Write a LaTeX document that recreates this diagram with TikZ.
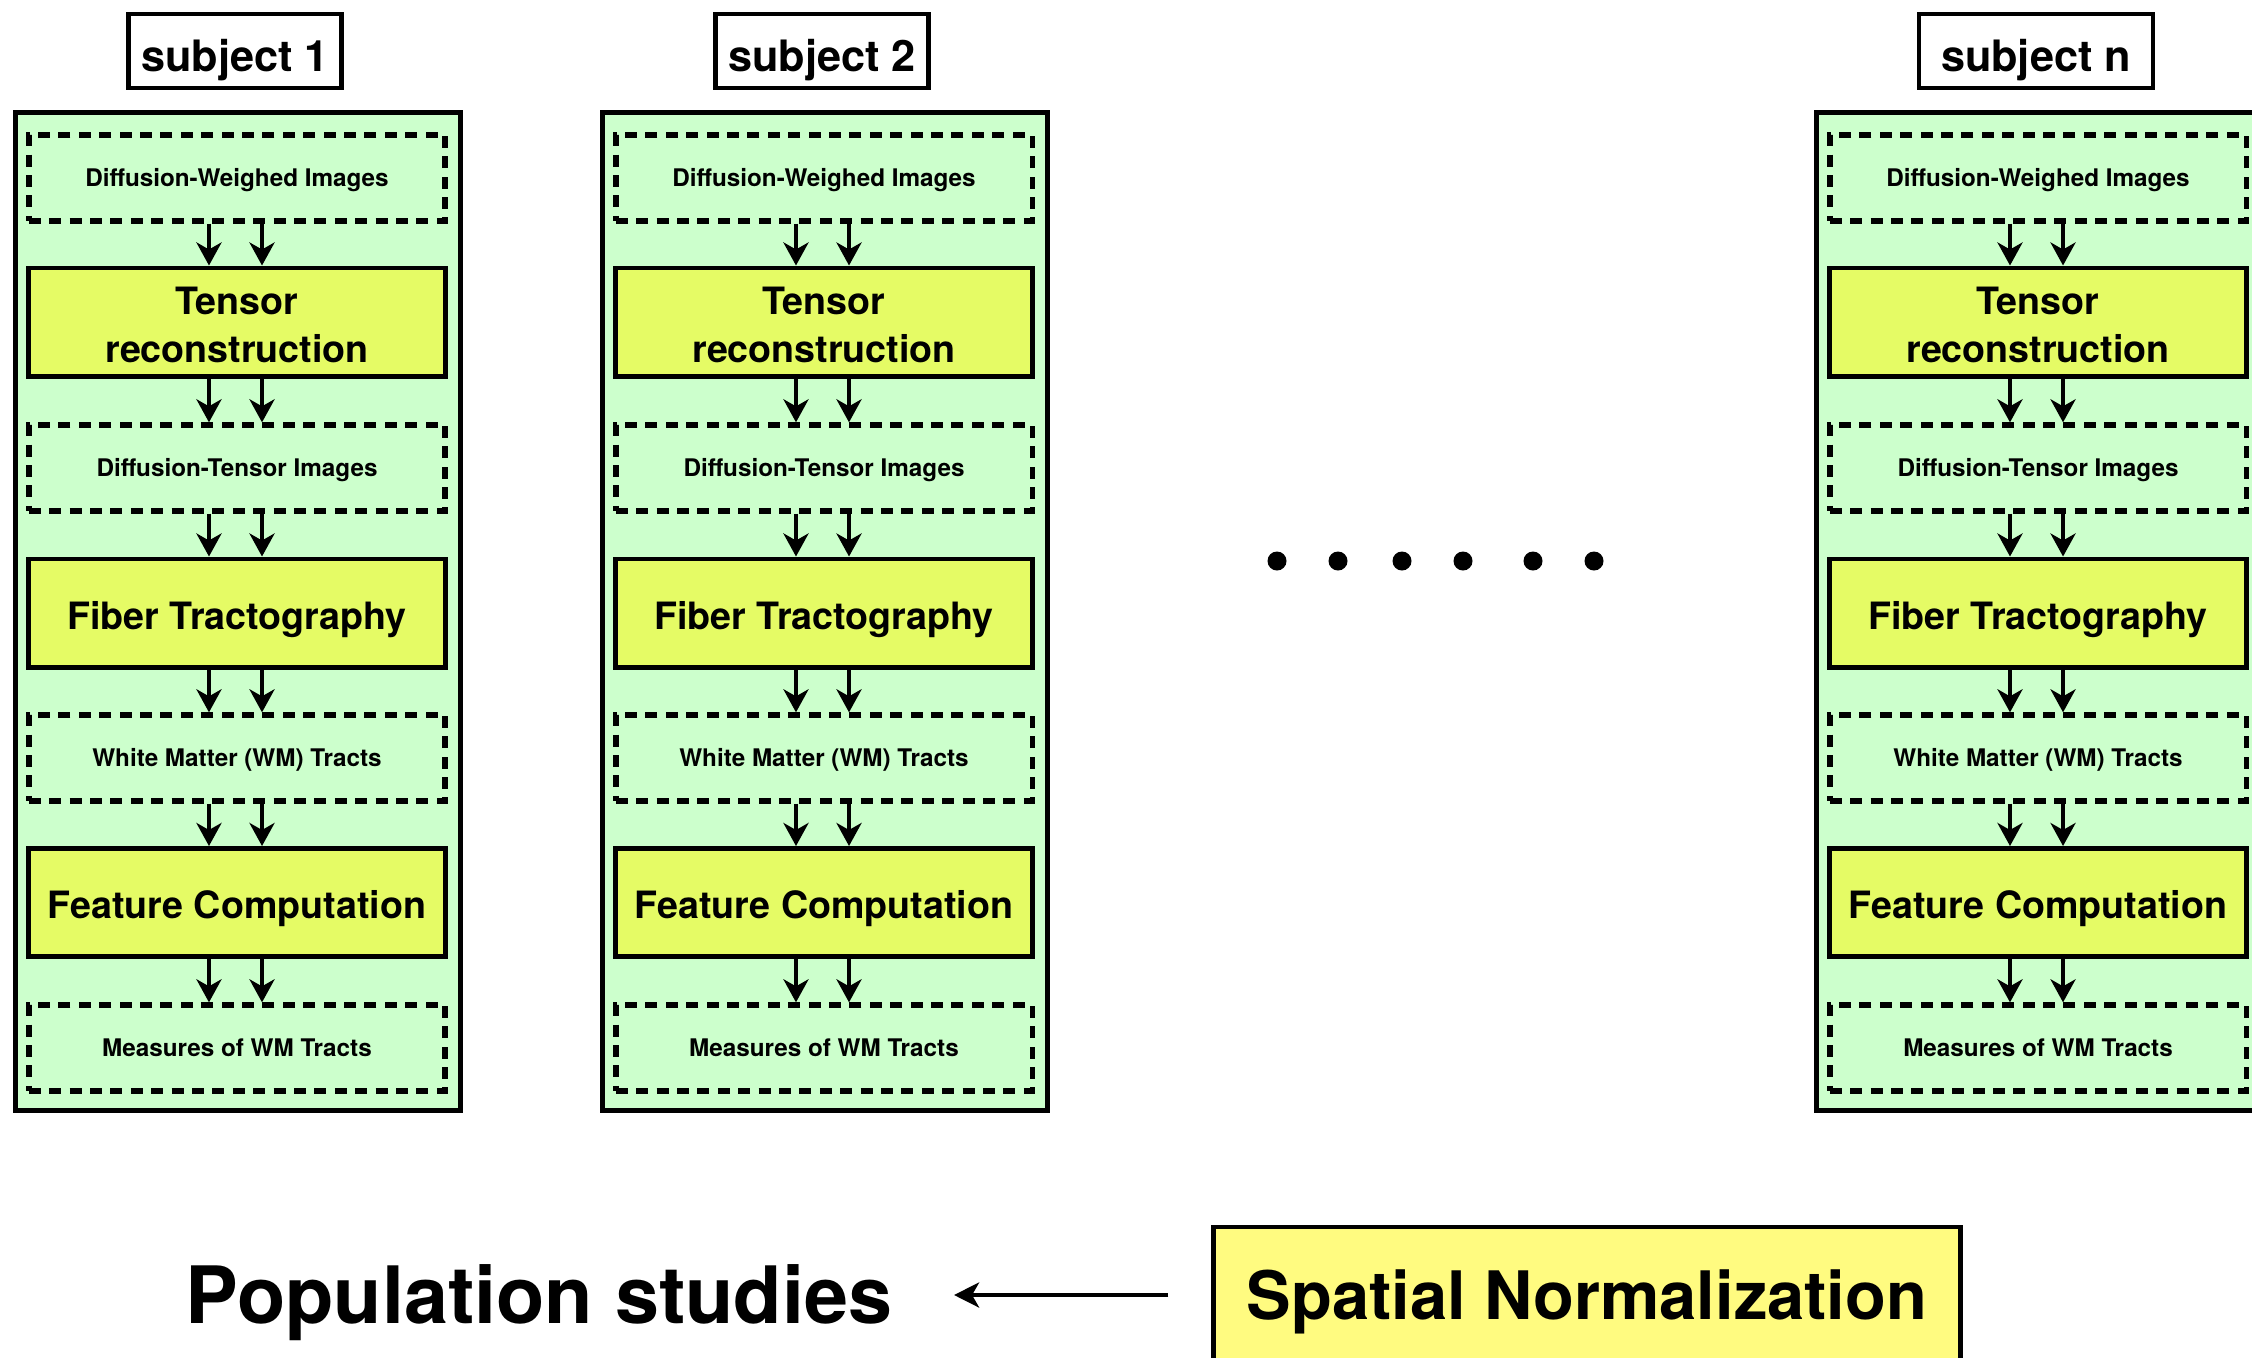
\documentclass[tikz,border=0pt]{standalone}
\usepackage{fontspec}
\setmainfont{TeX Gyre Heros}
\usetikzlibrary{arrows.meta}

\definecolor{panelgreen}{RGB}{204,255,204}
\definecolor{stepyellow}{RGB}{229,251,101}
\definecolor{normyellow}{RGB}{255,251,128}

\begin{document}
\begin{tikzpicture}[x=0.01cm,y=-0.01cm]
        \tikzstyle{panel}=[draw,fill=panelgreen,line width=1.4pt,minimum width=4.44cm,minimum height=9.97cm,inner sep=0]
        \tikzstyle{subj}=[draw,line width=1.2pt,minimum width=2.13cm,minimum height=0.74cm,text height=11.4pt,text depth=0pt,font=\fontsize{12.3}{14}\selectfont\bfseries]
        \tikzstyle{data}=[draw,dash pattern=on 3.4pt off 2.4pt,line width=1.5pt,minimum width=4.16cm,minimum height=0.86cm,text height=4.6pt,text depth=0pt,font=\fontsize{6.9}{8}\selectfont\bfseries]
        \tikzstyle{proc}=[draw,fill=stepyellow,line width=1.4pt,minimum width=4.16cm,minimum height=1.08cm,align=center,text height=9.1pt,text depth=0pt,font=\fontsize{10.7}{13.4}\selectfont\bfseries]
        \tikzstyle{flow}=[line width=1.15pt,-{Stealth[length=0.23cm,width=0.25cm,inset=0.07cm]}]
        \tikzstyle{normbox}=[draw,fill=normyellow,line width=1.4pt,minimum width=7.46cm,minimum height=1.36cm,text height=13.7pt,text depth=0pt,font=\fontsize{19}{23}\selectfont\bfseries]
        \clip (0,0) rectangle (2252,1357);
        \foreach \X/\id/\w in {16/1/2.13cm,603/2/2.13cm,1817/n/2.34cm}{
            \node[panel] (panel\id) at (\X+222,611.5) {};
            \node[subj,minimum width=\w] (subj\id) at (\X+219,51) {subject \id};
            \node[data] (dwi\id) at (\X+221,178) {Diffusion-Weighed Images};
            \node[proc,text height=22.8pt] (tens\id) at (\X+221,322) {Tensor\\reconstruction};
            \node[data] (dti\id) at (\X+221,468) {Diffusion-Tensor Images};
            \node[proc] (fib\id) at (\X+221,613) {Fiber Tractography};
            \node[data] (wm\id) at (\X+221,758) {White Matter (WM) Tracts};
            \node[proc] (feat\id) at (\X+221,902.5) {Feature Computation};
            \node[data] (meas\id) at (\X+221,1048) {Measures of WM Tracts};
            \foreach \a/\b in {dwi/tens,tens/dti,dti/fib,fib/wm,wm/feat,feat/meas}{
                \draw[flow] ([xshift=-0.28cm]\a\id.south) -- ([xshift=-0.28cm]\b\id.north);
                \draw[flow] ([xshift=0.25cm]\a\id.south) -- ([xshift=0.25cm]\b\id.north);
            }
        }
        \foreach \x in {1277,1338,1402,1463,1533,1594}
            \fill (\x,561) circle (0.095cm);
        \node[normbox] (norm) at (1587,1295) {Spatial Normalization};
        \node[anchor=east,inner sep=0,text height=16.2pt,text depth=0pt,font=\fontsize{22.5}{27}\selectfont\bfseries] (pop) at (893,1295) {Population studies};
        \draw[line width=1.2pt,-{Stealth[length=0.25cm,width=0.25cm,inset=0.07cm]},shorten <=0.43cm,shorten >=0.61cm] (norm.west) -- (pop.east);
    \end{tikzpicture}
\end{document}
